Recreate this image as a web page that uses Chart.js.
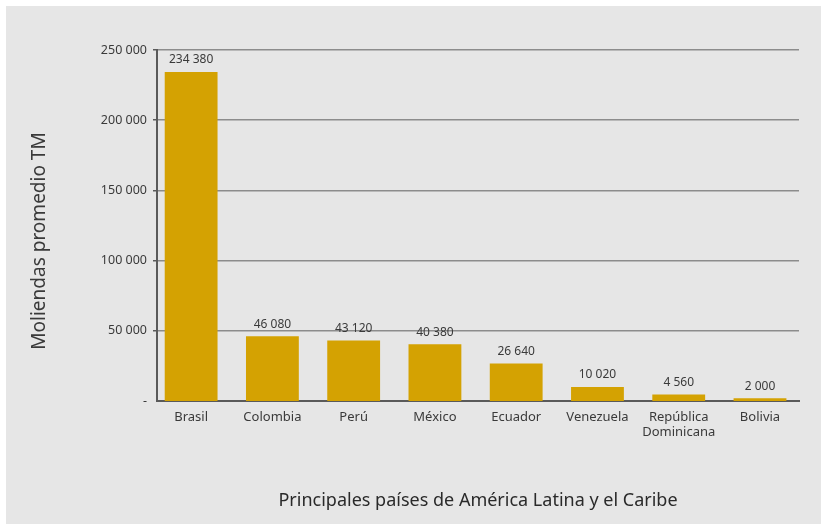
<!DOCTYPE html>
<html>
<head>
<meta charset="utf-8">
<script src="https://cdn.jsdelivr.net/npm/chart.js@4"></script>
<style>
  body { margin: 0; background: #fff; }
  #wrap { position: absolute; left: 6px; top: 6px; width: 815px; height: 518px; background: #e6e6e6; }
</style>
</head>
<body>
<div id="wrap"><canvas id="myChart" width="815" height="518"></canvas></div>
<script>
var paises = ['Brasil', 'Colombia', 'Perú', 'México', 'Ecuador', 'Venezuela', ['República', 'Dominicana'], 'Bolivia'];
var moliendas = [234380, 46080, 43120, 40380, 26640, 10020, 4560, 2000];
var yTicks = [0, 50000, 100000, 150000, 200000, 250000];

var FONT = "'Noto Sans', 'Open Sans', sans-serif";

function fmt(v) {
    if (v === 0) return '-';
    return String(v).replace(/\B(?=(\d{3})+(?!\d))/g, ' ');
}

// value labels above each bar + rotated y title
var extras = {
    id: 'extras',
    afterDatasetsDraw: function(chart) {
        var ctx = chart.ctx;
        var meta = chart.getDatasetMeta(0);
        ctx.save();
        ctx.fillStyle = '#3a3a3a';
        ctx.font = "12px " + FONT;
        ctx.textAlign = 'center';
        ctx.textBaseline = 'bottom';
        meta.data.forEach(function(bar, i) {
            ctx.fillText(fmt(moliendas[i]), bar.x, bar.y - 6);
        });
        ctx.translate(34, 235);
        ctx.rotate(-Math.PI / 2);
        ctx.textBaseline = 'middle';
        ctx.font = "19px " + FONT;
        ctx.fillText('Moliendas promedio TM', 0, 0);
        ctx.restore();
    }
};

var ctx = document.getElementById('myChart').getContext('2d');
var myChart = new Chart(ctx, {
    type: 'bar',
    data: {
        labels: paises,
        datasets: [{
            data: moliendas,
            backgroundColor: '#d4a202',
            categoryPercentage: 0.65,
            barPercentage: 1
        }]
    },
    options: {
        responsive: false,
        animation: false,
        layout: { padding: { left: 0, right: 22, top: 44, bottom: 0 } },
        plugins: {
            legend: { display: false },
            tooltip: { enabled: false }
        },
        scales: {
            x: {
                grid: { display: false, drawTicks: false },
                border: { color: '#5a5a5a', width: 2 },
                ticks: { color: '#3a3a3a', font: { family: FONT, size: 13 }, padding: 8, maxRotation: 0, autoSkip: false },
                title: {
                    display: true,
                    text: 'Principales países de América Latina y el Caribe',
                    color: '#2a2a2a',
                    font: { family: FONT, size: 18 },
                    padding: { top: 0, bottom: 12 }
                },
                // categories sit a bit left of the axis start in the original
                afterBuildTicks: function(scale) {
                    scale._startValue = -0.42;
                    scale._valueRange = 7.9;
                },
                afterFit: function(scale) { scale.height = 123; }
            },
            y: {
                min: 0,
                max: 250000,
                afterBuildTicks: function(scale) {
                    scale.ticks = yTicks.map(function(v) { return { value: v }; });
                },
                grid: {
                    color: '#8c8c8c',
                    lineWidth: function(c) { return c.tick && c.tick.value === 0 ? 0 : 1.5; },
                    tickColor: '#5a5a5a',
                    tickLength: 4
                },
                border: { color: '#5a5a5a', width: 2 },
                ticks: {
                    color: '#3a3a3a',
                    font: { family: FONT, size: 12.5 },
                    padding: 6,
                    callback: function(v) { return fmt(v); }
                },
                afterFit: function(scale) { scale.width = 151; }
            }
        }
    },
    plugins: [extras]
});
</script>
</body>
</html>
